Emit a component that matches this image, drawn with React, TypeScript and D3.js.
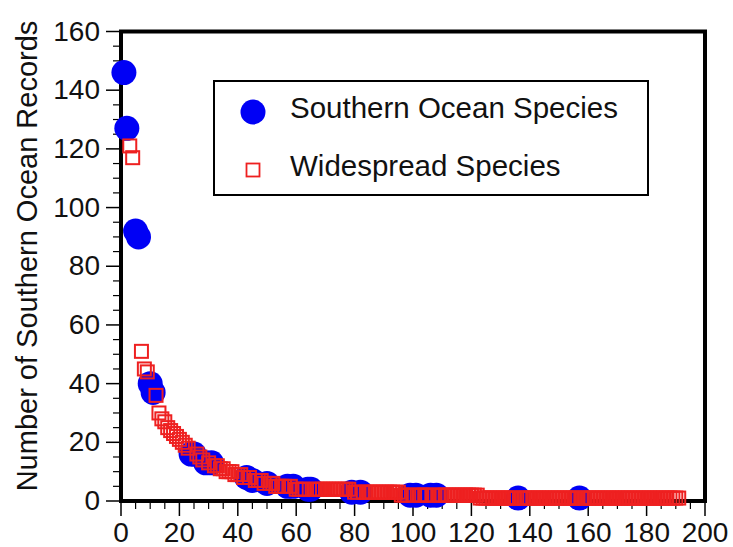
import React from "react";
import * as d3 from "d3";

const xTicks = [0, 20, 40, 60, 80, 100, 120, 140, 160, 180, 200];
const yTicks = [0, 20, 40, 60, 80, 100, 120, 140, 160];
const yLabel = "Number of Southern Ocean Records";
const legendLabels = ["Southern Ocean Species", "Widespread Species"];

// Southern Ocean species: [rank, number of records]
const southern: [number, number][] = [
  [1, 146], [2, 127], [5, 92], [6, 90], [10, 40], [11, 37], [24, 16], [25, 16],
  [29, 13], [31, 13], [43, 8], [45, 7], [50, 6], [57, 5], [59, 5], [64, 4], [65, 4],
  [79, 3], [82, 3], [99, 2], [101, 2], [106, 2], [108, 2], [136, 1], [157, 1],
];

// Widespread species: [rank, number of records]
const widespread: [number, number][] = [
  [3, 121], [4, 117], [7, 51], [8, 45], [9, 44],
  [12, 36], [13, 30], [14, 28], [15, 27], [16, 25], [17, 24], [18, 23], [19, 22], [20, 21],
  [21, 20], [22, 19], [23, 18], [26, 16], [27, 15], [28, 14], [30, 13], [32, 12], [33, 12],
  [34, 11], [35, 11], [36, 10], [37, 10], [38, 10], [39, 9], [40, 9], [41, 9], [42, 8],
  [44, 8], [46, 7], [47, 7], [48, 7], [49, 6], [51, 6], [52, 6], [53, 5], [54, 5], [55, 5],
  [56, 5], [58, 5], [60, 4], [61, 4], [62, 4], [63, 4],
  [66, 4], [67, 4], [68, 4], [69, 4], [70, 4], [71, 4], [72, 4], [73, 4], [74, 4], [75, 4],
  [76, 4], [77, 4], [78, 4],
  [80, 3], [81, 3], [83, 3], [84, 3], [85, 3], [86, 3], [87, 3], [88, 3], [89, 3], [90, 3],
  [91, 3], [92, 3], [93, 3], [94, 3], [95, 3],
  [96, 2], [97, 2], [98, 2], [100, 2], [102, 2], [103, 2], [104, 2], [105, 2], [107, 2],
  [109, 2], [110, 2], [111, 2], [112, 2], [113, 2], [114, 2], [115, 2], [116, 2], [117, 2],
  [118, 2], [119, 2], [120, 2], [121, 2], [122, 2],
  [123, 1], [124, 1], [125, 1], [126, 1], [127, 1], [128, 1], [129, 1], [130, 1], [131, 1],
  [132, 1], [133, 1], [134, 1], [135, 1],
  [137, 1], [138, 1], [139, 1], [140, 1], [141, 1], [142, 1], [143, 1], [144, 1], [145, 1],
  [146, 1], [147, 1], [148, 1], [149, 1], [150, 1], [151, 1], [152, 1], [153, 1], [154, 1],
  [155, 1], [156, 1],
  [158, 1], [159, 1], [160, 1], [161, 1], [162, 1], [163, 1], [164, 1], [165, 1], [166, 1],
  [167, 1], [168, 1], [169, 1], [170, 1], [171, 1], [172, 1], [173, 1], [174, 1], [175, 1],
  [176, 1], [177, 1], [178, 1], [179, 1], [180, 1], [181, 1], [182, 1], [183, 1], [184, 1],
  [185, 1], [186, 1], [187, 1], [188, 1], [189, 1], [190, 1], [191, 1],
];

const W = 733;
const H = 547;
const FONT = "'Liberation Sans', Arial, Helvetica, sans-serif";
const BLUE = "#0000f5";
const RED = "#ee2020";

export default function App() {
  const x = d3.scaleLinear().domain([0, 200]).range([121, 705]);
  const y = d3.scaleLinear().domain([0, 160]).range([501, 31.5]);
  const xMinor = d3.range(0, 201, 5).filter((v) => v % 20 !== 0);
  const yMinor = d3.range(0, 161, 5).filter((v) => v % 20 !== 0);
  const sq = 13;

  return (
    <svg
      width={W}
      height={H}
      style={{ position: "fixed", left: 0, top: 0, background: "#fff" }}
      fontFamily={FONT}
    >
      <rect x={0} y={0} width={W} height={H} fill="#fff" />
      {/* ticks */}
      {yTicks.map((v) => (
        <line key={"ym" + v} x1={106} x2={121} y1={y(v)} y2={y(v)} stroke="#000" strokeWidth={1.5} />
      ))}
      {yMinor.map((v) => (
        <line key={"yn" + v} x1={113} x2={121} y1={y(v)} y2={y(v)} stroke="#000" strokeWidth={1.2} />
      ))}
      {xTicks.map((v) => (
        <line key={"xm" + v} x1={x(v)} x2={x(v)} y1={501} y2={516} stroke="#000" strokeWidth={1.5} />
      ))}
      {xMinor.map((v) => (
        <line key={"xn" + v} x1={x(v)} x2={x(v)} y1={501} y2={509} stroke="#000" strokeWidth={1.2} />
      ))}
      {/* tick labels */}
      {yTicks.map((v) => (
        <text key={"yl" + v} x={100} y={y(v) + 9} textAnchor="end" fontSize={28} fill="#111">
          {v}
        </text>
      ))}
      {xTicks.map((v) => (
        <text key={"xl" + v} x={x(v)} y={541.5} textAnchor="middle" fontSize={28} fill="#111">
          {v}
        </text>
      ))}
      {/* frame */}
      <rect
        x={x(0)}
        y={y(160)}
        width={x(200) - x(0)}
        height={y(0) - y(160)}
        fill="none"
        stroke="#000"
        strokeWidth={4}
      />
      {/* axis title */}
      <text
        transform={`translate(37,256) rotate(-90)`}
        textAnchor="middle"
        fontSize={29}
        fill="#111"
      >
        {yLabel}
      </text>
      {/* data */}
      {southern.map(([r, c], i) => (
        <circle key={"s" + i} cx={x(r)} cy={y(c)} r={12.5} fill={BLUE} />
      ))}
      {widespread.map(([r, c], i) => (
        <rect
          key={"w" + i}
          x={x(r) - sq / 2}
          y={y(c) - sq / 2}
          width={sq}
          height={sq}
          fill="none"
          stroke={RED}
          strokeWidth={2}
        />
      ))}
      {/* legend */}
      <rect x={214} y={81} width={434} height={114} fill="#fff" stroke="#000" strokeWidth={2} />
      <circle cx={253} cy={112} r={12.5} fill={BLUE} />
      <rect x={253 - 6.5} y={170 - 6.5} width={13} height={13} fill="none" stroke={RED} strokeWidth={1.8} />
      <text x={290} y={118} fontSize={29.5} fill="#111">
        {legendLabels[0]}
      </text>
      <text x={290} y={176} fontSize={29.5} fill="#111">
        {legendLabels[1]}
      </text>
    </svg>
  );
}
